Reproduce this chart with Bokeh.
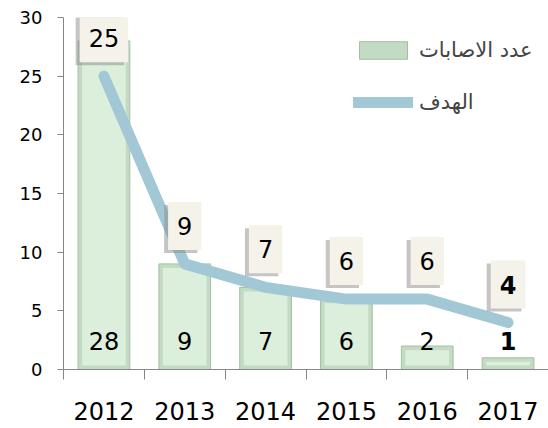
from bokeh.plotting import figure
from bokeh.models import ColumnDataSource, Range1d, FixedTicker, LabelSet, Legend, LegendItem
from bokeh.core.properties import value
from bokeh.embed import file_html
from bokeh.resources import INLINE

# ---- data ----
years = ["2012", "2013", "2014", "2015", "2016", "2017"]
injuries = [28, 9, 7, 6, 2, 1]          # عدد الاصابات
target = [25, 9, 7, 6, 6, 4]            # الهدف
y_ticks = [0, 5, 10, 15, 20, 25, 30]
series_names = ["عدد الاصابات", "الهدف"]

FONT = "DejaVu Sans"
BEVEL = 0.35
BAR_LABEL_Y = 2.4

idx = list(range(len(years)))
last_bold = ["normal"] * (len(years) - 1) + ["bold"]
src = ColumnDataSource(dict(
    x=idx,
    inj=injuries,
    inj_txt=[str(v) for v in injuries],
    inner_top=[max(v - BEVEL, BEVEL + 0.1) for v in injuries],
    tgt=target,
    tgt_txt=[str(v) for v in target],
    lab_y=[BAR_LABEL_Y] * len(years),
    fstyle=last_bold,
))

p = figure(width=548, height=428,
           x_range=Range1d(-0.5, len(years) - 0.5), y_range=Range1d(0, 30),
           output_backend="svg", toolbar_location=None,
           min_border_left=63, min_border_right=0, min_border_top=17, min_border_bottom=59)
p.outline_line_color = None
p.xgrid.grid_line_color = None
p.ygrid.grid_line_color = None

outer = p.vbar(x="x", top="inj", bottom=0, width=0.64, fill_color="#c3dbc3",
               line_color="#a3bfa3", line_width=1, source=src)
p.vbar(x="x", top="inner_top", bottom=BEVEL, width=0.54, fill_color="#dcefdc",
       line_color=None, source=src)

line = p.line("x", "tgt", line_width=11, line_color="#a3c8d5", line_cap="round",
              line_join="round", source=src)

# value boxes for the target line (shadow + box)
p.text(x="x", y="tgt", text="tgt_txt", source=src, x_offset=-4, y_offset=-35,
       text_align="center", text_baseline="middle", text_font_size="24px",
       text_font=value(FONT), text_font_style="fstyle", text_alpha=0,
       background_fill_color="#8c8c8c", background_fill_alpha=0.5,
       padding=dict(left=9, right=9, top=15, bottom=15))
p.text(x="x", y="tgt", text="tgt_txt", source=src, y_offset=-38,
       text_align="center", text_baseline="middle", text_font_size="24px",
       text_font=value(FONT), text_font_style="fstyle", text_color="black",
       background_fill_color="#f4f2e9",
       padding=dict(left=9, right=9, top=15, bottom=15))

bar_labels = LabelSet(x="x", y="lab_y", text="inj_txt", source=src,
                      text_align="center", text_baseline="middle", text_font_size="24px",
                      text_font=value(FONT), text_font_style="fstyle", text_color="black")
p.add_layout(bar_labels)

# y axis
yax = p.yaxis[0]
yax.ticker = FixedTicker(ticks=y_ticks)
yax.axis_line_color = "#868686"
yax.major_tick_line_color = "#868686"
yax.major_tick_out = 6
yax.major_tick_in = 0
yax.minor_tick_line_color = None
yax.major_label_standoff = 15
yax.major_label_text_font_size = "18px"
yax.major_label_text_font = FONT
yax.major_label_text_color = "black"

# x axis: labels at centres, ticks at category boundaries
xax = p.xaxis[0]
xax.ticker = FixedTicker(ticks=idx, minor_ticks=[i - 0.5 for i in range(len(years) + 1)])
xax.major_label_overrides = {i: y for i, y in zip(idx, years)}
xax.axis_line_color = "#868686"
xax.major_tick_out = 0
xax.major_tick_in = 0
xax.minor_tick_out = 10
xax.minor_tick_in = 0
xax.minor_tick_line_color = "#868686"
xax.major_label_standoff = 22
xax.major_label_text_font_size = "24px"
xax.major_label_text_font = FONT
xax.major_label_text_color = "black"

legend = Legend(items=[LegendItem(label=series_names[0], renderers=[outer]),
                       LegendItem(label=series_names[1], renderers=[line])],
                location=(290, 255), glyph_width=60, glyph_height=22, label_height=22,
                spacing=28, padding=0, margin=0, label_standoff=6,
                label_text_font_size="21px", label_text_font=FONT,
                label_text_baseline="alphabetic",
                border_line_color=None, background_fill_alpha=0)
p.add_layout(legend)

open("out.html", "w").write(file_html(p, INLINE))
